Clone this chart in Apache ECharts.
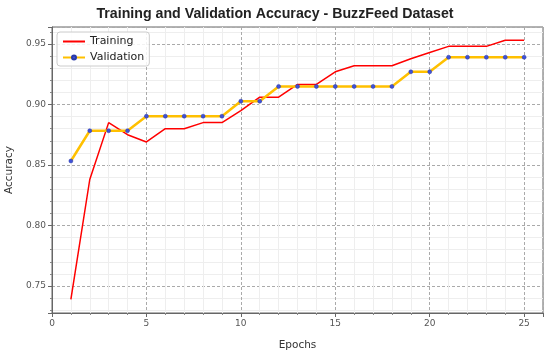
<!DOCTYPE html>
<html><head><meta charset="utf-8">
<script src="https://cdn.jsdelivr.net/npm/echarts@6/dist/echarts.min.js"></script>
<style>html,body{margin:0;padding:0;background:#fff}#c{width:550px;height:355px}</style>
</head><body><div id="c"></div>
<script>
const epochs = [1,2,3,4,5,6,7,8,9,10,11,12,13,14,15,16,17,18,19,20,21,22,23,24,25];
const trainingAcc = [0.739,0.838,0.885,0.875,0.869,0.880,0.880,0.885,0.885,0.895,0.906,0.906,0.9165,0.9165,0.927,0.932,0.932,0.932,0.9378,0.943,0.948,0.948,0.948,0.953,0.953];
const validationAcc = [0.8533,0.8783,0.8783,0.8783,0.8903,0.8903,0.8903,0.8903,0.8903,0.9027,0.9027,0.9149,0.9149,0.9149,0.9149,0.9149,0.9149,0.9149,0.927,0.927,0.939,0.939,0.939,0.939,0.939];
const seriesNames = ['Training','Validation'];

const chart = echarts.init(document.getElementById('c'), null, {renderer:'canvas'});
const tickFont = {fontFamily:'DejaVu Sans', fontSize:9, color:'#555'};
chart.setOption({
  animation:false,
  backgroundColor:'#fff',
  title:{text:'Training and Validation Accuracy - BuzzFeed Dataset', left:'center', top:2,
    textStyle:{fontFamily:'Liberation Sans, Arial', fontWeight:'bold', fontSize:14.2, color:'#222'}},
  grid:{left:52, right:7, top:27, bottom:42, show:true, borderColor:'#666', borderWidth:1, backgroundColor:'transparent', outerBoundsMode:'none', containLabel:false},
  legend:{left:57, top:32, orient:'vertical', itemWidth:22, itemHeight:5, itemGap:5,
    backgroundColor:'rgba(255,255,255,0.85)', borderColor:'#ccc', borderWidth:1, borderRadius:3, padding:[4,5,3,5],
    textStyle:{fontFamily:'DejaVu Sans', fontSize:11, color:'#222'},
    data:[{name:seriesNames[0], itemStyle:{opacity:0}}, {name:seriesNames[1]}]},
  xAxis:{type:'value', min:0, max:26, interval:5,
    name:'Epochs', nameLocation:'middle', nameGap:27, nameTextStyle:{fontFamily:'DejaVu Sans', fontSize:10.5, color:'#333'},
    axisLine:{show:true, lineStyle:{color:'#666'}},
    axisTick:{show:true, length:4, lineStyle:{color:'#666'}},
    minorTick:{show:true, splitNumber:5, length:2, lineStyle:{color:'#888'}},
    axisLabel:{...tickFont, margin:6, showMaxLabel:false},
    splitLine:{show:true, lineStyle:{color:'#aaa', type:[3,2], width:1}},
    minorSplitLine:{show:true, lineStyle:{color:'#eeeeee', width:1}}},
  yAxis:{type:'value', min:0.7277, max:0.964, splitNumber:5,
    name:'Accuracy', nameLocation:'middle', nameGap:35, nameTextStyle:{fontFamily:'DejaVu Sans', fontSize:10.5, color:'#333'},
    axisLine:{show:true, lineStyle:{color:'#666'}},
    axisTick:{show:true, length:4, lineStyle:{color:'#666'}},
    minorTick:{show:true, splitNumber:5, length:2, lineStyle:{color:'#888'}},
    axisLabel:{...tickFont, margin:6, showMinLabel:false, showMaxLabel:false, formatter:v=>v.toFixed(2)},
    splitLine:{show:true, lineStyle:{color:'#aaa', type:[3,2], width:1}},
    minorSplitLine:{show:true, lineStyle:{color:'#eeeeee', width:1}}},
  series:[
    {name:seriesNames[0], type:'line', data:epochs.map((e,i)=>[e,trainingAcc[i]]),
      showSymbol:false, symbol:'none', lineStyle:{color:'#ff0000', width:1.5}, itemStyle:{color:'#ff0000'}, z:2},
    {name:seriesNames[1], type:'line', data:epochs.map((e,i)=>[e,validationAcc[i]]),
      symbol:'circle', symbolSize:4, showSymbol:true,
      lineStyle:{color:'#ffc000', width:2.5},
      itemStyle:{color:'#3f51d9', borderColor:'#2a3aa8', borderWidth:0.5}, z:3}
  ]
});
</script></body></html>
